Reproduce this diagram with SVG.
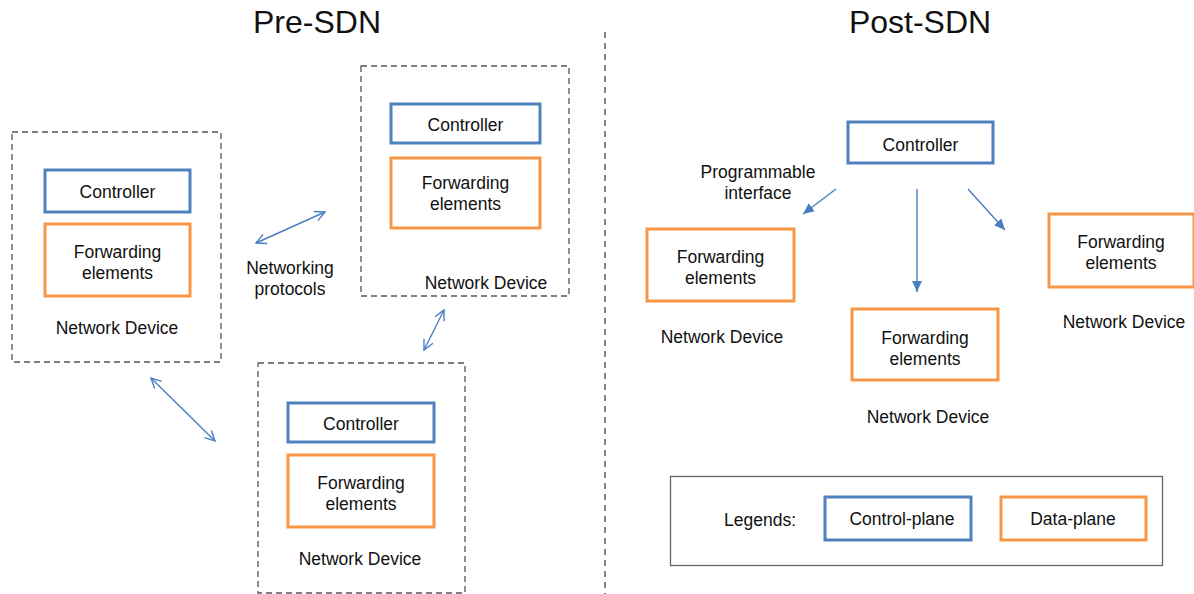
<svg xmlns="http://www.w3.org/2000/svg" width="1194" height="594" viewBox="0 0 1194 594">
  <style>
    text { font-family: "Liberation Sans", Arial, sans-serif; fill: #111; text-anchor: middle; }
    .lbl { font-size: 17.5px; }
    .title { font-size: 32px; }
    .dev { fill: none; stroke: #555; stroke-width: 1.3; stroke-dasharray: 6 4; }
    .ctl { fill: #fff; stroke: #4f81bd; stroke-width: 3; }
    .fwd { fill: #fff; stroke: #f79646; stroke-width: 3; }
    .link { fill: none; stroke: #4a7ec2; stroke-width: 1.4; }
  </style>
  <defs>
    <marker id="arr" viewBox="0 0 12 12" refX="11" refY="6" markerWidth="12" markerHeight="12" markerUnits="userSpaceOnUse" orient="auto-start-reverse">
      <polyline points="1,1 11,6 1,11" fill="none" stroke="#4a7ec2" stroke-width="1.4"/>
    </marker>
    <marker id="tri" viewBox="0 0 12 12" refX="11" refY="6" markerWidth="12" markerHeight="12" markerUnits="userSpaceOnUse" orient="auto">
      <path d="M0,1 L11,6 L0,11 Z" fill="#4a7ec2"/>
    </marker>
  </defs>

  <rect width="1194" height="594" fill="#fff"/>

  <text class="title" x="317" y="33">Pre-SDN</text>
  <text class="title" x="920" y="33">Post-SDN</text>
  <line x1="605" y1="32" x2="605" y2="594" stroke="#333" stroke-width="1.2" stroke-dasharray="6 5"/>

  <!-- Pre-SDN devices -->
  <g id="dev-left">
    <rect class="dev" x="12" y="132" width="209" height="230"/>
    <rect class="ctl" x="45" y="170" width="145" height="42"/>
    <text class="lbl" x="117.5" y="198">Controller</text>
    <rect class="fwd" x="45" y="224" width="145" height="72"/>
    <text class="lbl" x="117.5" y="258">Forwarding</text>
    <text class="lbl" x="117.5" y="279">elements</text>
    <text class="lbl" x="117" y="334">Network Device</text>
  </g>
  <g id="dev-top">
    <rect class="dev" x="361" y="66" width="208" height="230"/>
    <rect class="ctl" x="391" y="104" width="149" height="39"/>
    <text class="lbl" x="465.5" y="131">Controller</text>
    <rect class="fwd" x="391" y="158" width="149" height="70"/>
    <text class="lbl" x="465.5" y="189">Forwarding</text>
    <text class="lbl" x="465.5" y="210">elements</text>
    <text class="lbl" x="486" y="289">Network Device</text>
  </g>
  <g id="dev-bottom">
    <rect class="dev" x="258" y="363" width="207" height="230"/>
    <rect class="ctl" x="288" y="403" width="146" height="39"/>
    <text class="lbl" x="361" y="430">Controller</text>
    <rect class="fwd" x="288" y="455" width="146" height="72"/>
    <text class="lbl" x="361" y="489">Forwarding</text>
    <text class="lbl" x="361" y="510">elements</text>
    <text class="lbl" x="360" y="565">Network Device</text>
  </g>
  <g id="proto-label">
    <text class="lbl" x="290" y="274">Networking</text>
    <text class="lbl" x="290" y="295">protocols</text>
  </g>

  <!-- Post-SDN nodes -->
  <g id="sdn-controller">
    <rect class="ctl" x="848" y="122" width="145" height="41"/>
    <text class="lbl" x="920.5" y="151">Controller</text>
  </g>
  <g id="prog-label">
    <text class="lbl" x="758" y="178">Programmable</text>
    <text class="lbl" x="758" y="199">interface</text>
  </g>
  <g id="fwd-left">
    <rect class="fwd" x="647" y="229" width="147" height="72"/>
    <text class="lbl" x="720.5" y="263">Forwarding</text>
    <text class="lbl" x="720.5" y="284">elements</text>
    <text class="lbl" x="722" y="343">Network Device</text>
  </g>
  <g id="fwd-mid">
    <rect class="fwd" x="852" y="309" width="146" height="71"/>
    <text class="lbl" x="925" y="344">Forwarding</text>
    <text class="lbl" x="925" y="365">elements</text>
    <text class="lbl" x="928" y="423">Network Device</text>
  </g>
  <g id="fwd-right">
    <rect class="fwd" x="1049" y="214" width="145" height="73"/>
    <text class="lbl" x="1121" y="248">Forwarding</text>
    <text class="lbl" x="1121" y="269">elements</text>
    <text class="lbl" x="1124" y="328">Network Device</text>
  </g>

  <!-- Legend -->
  <g id="legend">
    <rect x="670.5" y="476.5" width="492" height="89" fill="none" stroke="#666" stroke-width="1.3"/>
    <text class="lbl" x="760" y="526">Legends:</text>
    <rect class="ctl" x="825" y="497" width="146" height="43"/>
    <text class="lbl" x="902" y="525">Control-plane</text>
    <rect class="fwd" x="1001" y="497" width="145" height="43"/>
    <text class="lbl" x="1073" y="525">Data-plane</text>
  </g>

  <!-- Connectors -->
  <g id="connectors">
    <line class="link" x1="256" y1="243" x2="325" y2="212" marker-start="url(#arr)" marker-end="url(#arr)"/>
    <line class="link" x1="424" y1="350" x2="444" y2="310" marker-start="url(#arr)" marker-end="url(#arr)"/>
    <line class="link" x1="151" y1="378" x2="215" y2="441" marker-start="url(#arr)" marker-end="url(#arr)"/>
    <line class="link" x1="836" y1="189" x2="803" y2="214" marker-end="url(#tri)"/>
    <line class="link" x1="917" y1="189" x2="917" y2="292" marker-end="url(#tri)"/>
    <line class="link" x1="968" y1="189" x2="1005" y2="230" marker-end="url(#tri)"/>
  </g>
</svg>
